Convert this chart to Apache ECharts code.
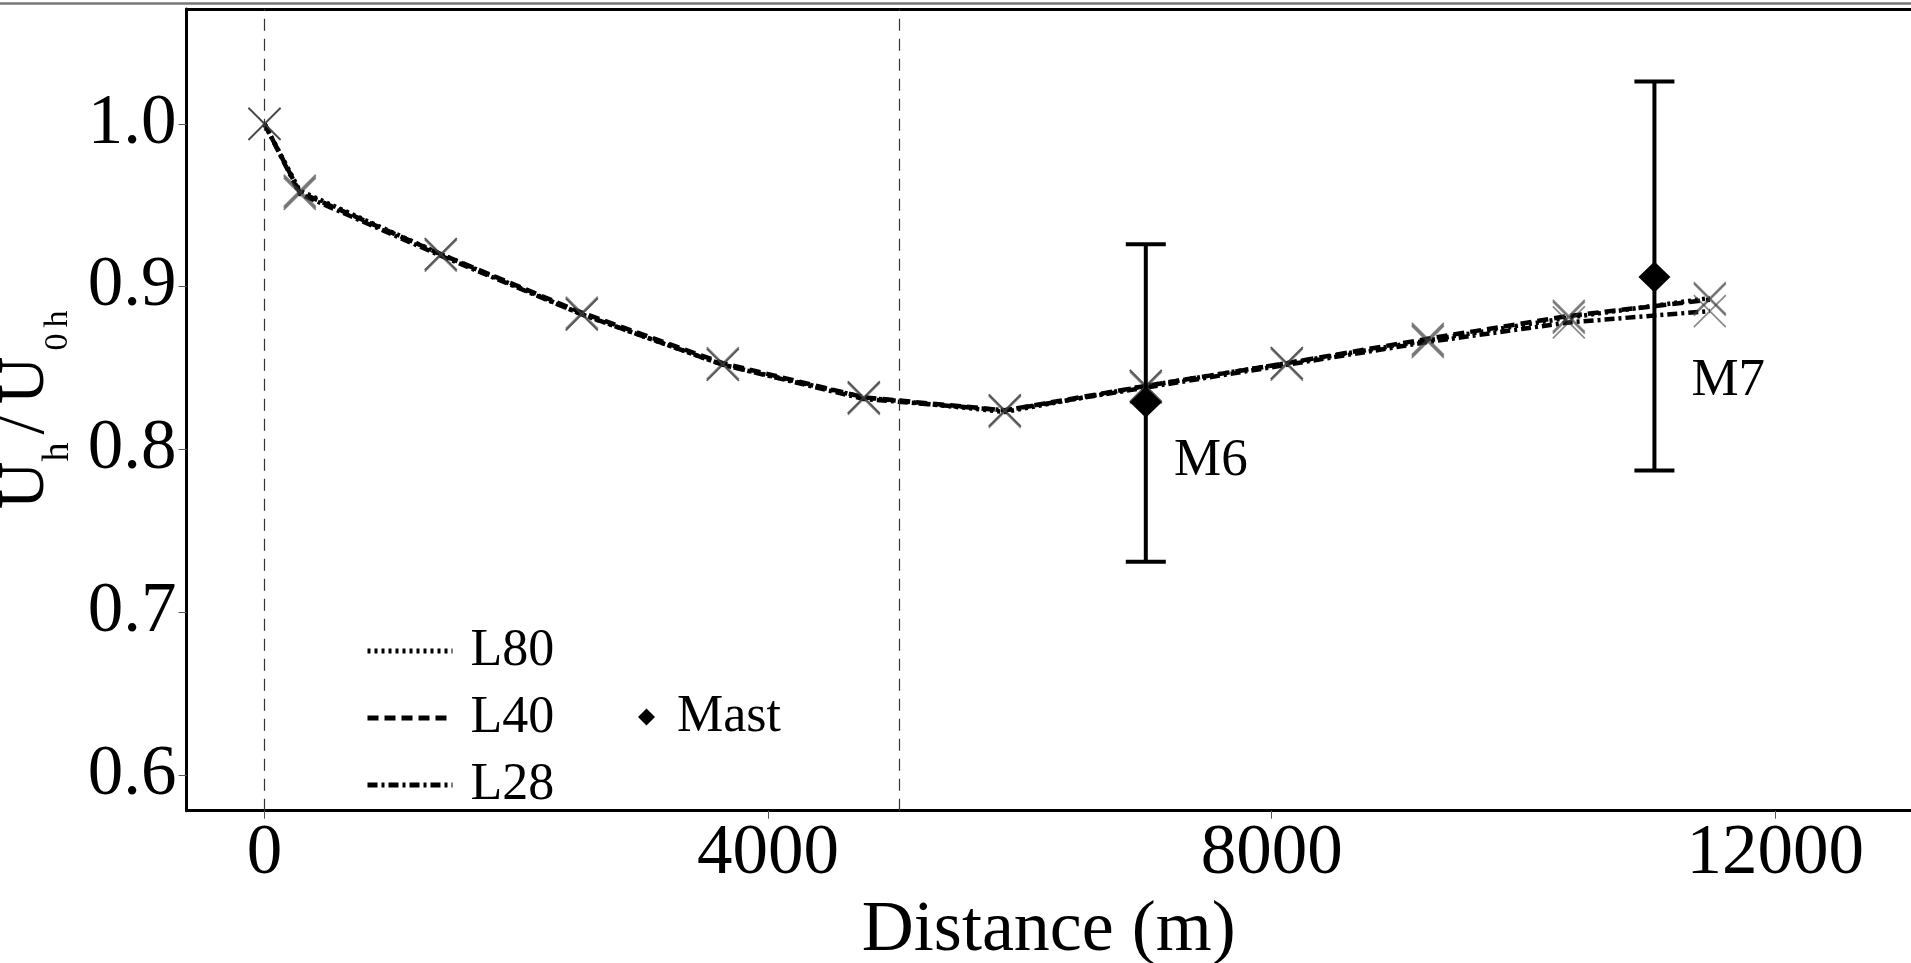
<!DOCTYPE html>
<html><head><meta charset="utf-8">
<script src="https://cdn.jsdelivr.net/npm/echarts@6/dist/echarts.min.js"></script>
<style>html,body{margin:0;padding:0;background:#fff;}#c{width:1911px;height:963px;}</style>
</head><body><div id="c"></div>
<script>
// ---- data ----
const distance = [0, 280, 1400, 2520, 3640, 4760, 5880, 7000, 8120, 9240, 10360, 11480];
const L80 = [1.000, 0.959, 0.920, 0.883, 0.852, 0.832, 0.823, 0.839, 0.853, 0.867, 0.881, 0.893];
const L40 = [1.000, 0.958, 0.920, 0.884, 0.853, 0.832, 0.824, 0.839, 0.853, 0.868, 0.882, 0.892];
const L28 = [1.000, 0.957, 0.919, 0.883, 0.852, 0.831, 0.824, 0.838, 0.852, 0.866, 0.878, 0.885];
const mastNames = ['M6', 'M7'];
const mastX = [7000, 11040];
const mastY = [0.829, 0.906];
const mastLow = [0.731, 0.787];
const mastHigh = [0.926, 1.026];
const mastLabelX = [7224, 11334];
const mastLabelY = [0.793, 0.842];
const refLinesX = [0, 5040];
const xTicks = [0, 4000, 8000, 12000];
const yTicks = [0.6, 0.7, 0.8, 0.9, 1.0];

const FONT = 'Liberation Serif';
const pairs = arr => distance.map((x, i) => [x, arr[i]]);
const crossSeries = arr => ({
  type: 'scatter', data: pairs(arr), silent: true, z: 4,
  symbol: 'path://M0,0L10,10M10,0L0,10', symbolSize: 32,
  itemStyle: { color: 'transparent', borderColor: 'rgba(60,60,60,0.6)', borderWidth: 1.7, opacity: 1 }
});
const tok = (fs, pt, pl, pr) => ({ fontSize: fs, lineHeight: fs, fontFamily: FONT, color: '#000',
  verticalAlign: 'top', padding: [pt, pr || 0, 0, pl || 0] });

const chart = echarts.init(document.getElementById('c'), null, { renderer: 'canvas' });
chart.setOption({
  animation: false,
  backgroundColor: '#fff',
  grid: { left: 186.6, right: 0, top: 9, bottom: 152.3, containLabel: false, outerBoundsMode: 'none' },
  xAxis: [{
    type: 'value', min: -619, max: 13078,
    axisLine: { onZero: false, lineStyle: { color: '#000', width: 3 } },
    axisTick: { customValues: xTicks, length: 8, lineStyle: { color: '#555', width: 1 } },
    axisLabel: { customValues: xTicks, fontSize: 71, fontFamily: FONT, color: '#000', margin: 8,
      formatter: v => String(v) },
    splitLine: { show: false },
    name: 'Distance (m)', nameLocation: 'middle', nameGap: 82,
    nameTextStyle: { fontSize: 72, fontFamily: FONT, color: '#000' }
  }, {
    type: 'value', position: 'top', min: -619, max: 13078,
    axisLine: { show: true, onZero: false, lineStyle: { color: '#000', width: 3 } },
    axisTick: { show: false }, axisLabel: { show: false }, splitLine: { show: false }
  }],
  yAxis: {
    type: 'value', min: 0.578, max: 1.0706,
    axisLine: { show: true, onZero: false, lineStyle: { color: '#000', width: 3 } },
    axisTick: { show: true, customValues: yTicks, length: 8, lineStyle: { color: '#555', width: 1 } },
    axisLabel: { customValues: yTicks, fontSize: 71, fontFamily: FONT, color: '#000', margin: 10,
      formatter: v => v.toFixed(1) },
    splitLine: { show: false },
    name: '{u|U}{a|h}{s|/}{u|U}{b|0}{c|h}', nameLocation: 'middle', nameRotate: 90, nameGap: 100,
    nameTextStyle: {
      fontFamily: FONT, color: '#000',
      rich: {
        u: tok(66, 0),
        s: tok(66, 0, 8, 12),
        a: tok(38, 46),
        b: tok(34, 48.4, 6),
        c: tok(34, 48.4, 6)
      }
    }
  },
  legend: [{
    data: ['L80', 'L40', 'L28'], orient: 'vertical', left: 360, top: 620,
    itemWidth: 85, itemHeight: 4, itemGap: 15, selectedMode: false,
    itemStyle: { color: 'transparent', borderWidth: 0, opacity: 0 },
    lineStyle: { width: 5 },
    formatter: n => '{t|' + n + '}',
    textStyle: { fontSize: 52, fontFamily: FONT, color: '#000',
      rich: { t: { fontSize: 52, lineHeight: 50, fontFamily: FONT, color: '#000', padding: [0, 0, 0, 13] } } }
  }, {
    data: ['Mast'], orient: 'vertical', left: 633, top: 686,
    itemWidth: 17, itemHeight: 17, selectedMode: false,
    itemStyle: { color: '#000', opacity: 1 },
    formatter: n => '{t|' + n + '}',
    textStyle: { fontSize: 52, fontFamily: FONT, color: '#000',
      rich: { t: { fontSize: 52, lineHeight: 50, fontFamily: FONT, color: '#000', padding: [0, 0, 0, 17] } } }
  }],
  graphic: [{
    type: 'line', shape: { x1: 0, y1: 3.5, x2: 1911, y2: 3.5 }, style: { stroke: '#777', lineWidth: 2.5 }, silent: true
  }],
  series: [
    { name: 'L80', type: 'line', data: pairs(L80), symbol: 'none', z: 3,
      lineStyle: { color: '#000', width: 4.5, type: [3, 4] }, itemStyle: { color: '#000' },
      markLine: { silent: true, symbol: 'none', label: { show: false },
        lineStyle: { color: '#333', width: 1.2, type: [12, 8] },
        data: refLinesX.map(x => ({ xAxis: x })) } },
    { name: 'L40', type: 'line', data: pairs(L40), symbol: 'none', z: 3,
      lineStyle: { color: '#000', width: 4.5, type: [11, 6] }, itemStyle: { color: '#000' } },
    { name: 'L28', type: 'line', data: pairs(L28), symbol: 'none', z: 3,
      lineStyle: { color: '#000', width: 4.5, type: [10, 4, 3, 4] }, itemStyle: { color: '#000' } },
    crossSeries(L80), crossSeries(L40), crossSeries(L28),
    { type: 'custom', silent: true, z: 5,
      data: mastX.map((x, i) => [x, mastLow[i], mastHigh[i]]),
      encode: { x: 0, y: [1, 2] },
      renderItem: (params, api) => {
        const x = api.value(0);
        const lo = api.coord([x, api.value(1)]);
        const hi = api.coord([x, api.value(2)]);
        const hw = 20;
        const st = { stroke: '#000', lineWidth: 4 };
        return { type: 'group', children: [
          { type: 'line', shape: { x1: lo[0], y1: lo[1], x2: hi[0], y2: hi[1] }, style: st },
          { type: 'line', shape: { x1: lo[0] - hw, y1: lo[1], x2: lo[0] + hw, y2: lo[1] }, style: st },
          { type: 'line', shape: { x1: hi[0] - hw, y1: hi[1], x2: hi[0] + hw, y2: hi[1] }, style: st }
        ] };
      } },
    { name: 'Mast', type: 'scatter', z: 6, symbol: 'diamond', symbolSize: [32, 31],
      data: mastX.map((x, i) => [x, mastY[i]]), itemStyle: { color: '#000', opacity: 1 } },
    { type: 'scatter', silent: true, z: 6, symbolSize: 0, itemStyle: { opacity: 1 },
      data: mastLabelX.map((x, i) => ({ value: [x, mastLabelY[i]], name: mastNames[i] })),
      label: { show: true, position: 'right', distance: 0, formatter: p => p.name,
        fontSize: 53, fontFamily: FONT, color: '#000', opacity: 1 } }
  ]
});
</script></body></html>
